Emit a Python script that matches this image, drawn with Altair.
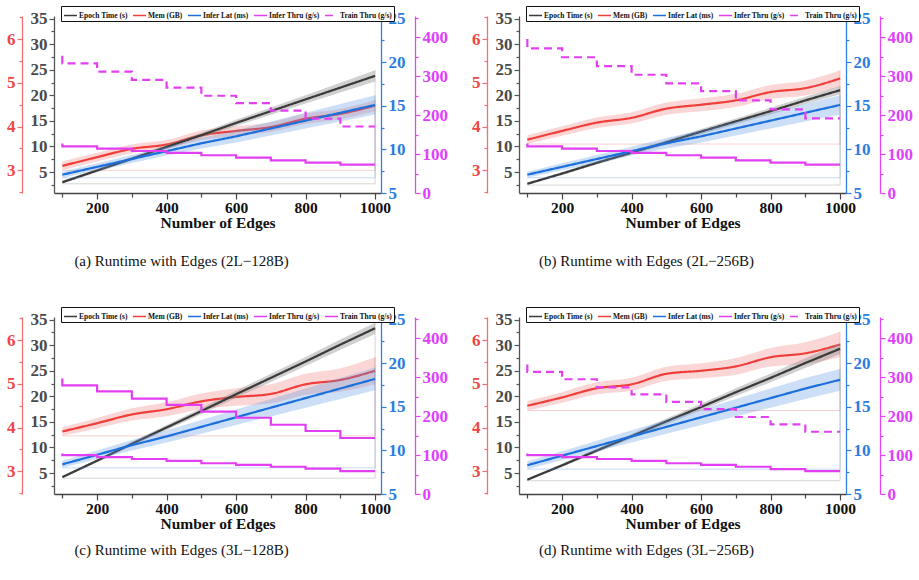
import altair as alt
import pandas as pd

# ---------------- data ----------------
EDGES = [100, 200, 300, 400, 500, 600, 700, 800, 900, 1000]
SERIES = ["Epoch Time (s)", "Mem (GB)", "Infer Lat (ms)", "Infer Thru (g/s)", "Train Thru (g/s)"]
COLORS = ["#3a3a3a", "#f03e3a", "#1d6fdc", "#e23ff2", "#e23ff2"]
CAPTIONS = [
    "(a)  Runtime with Edges (2L\u2212128B)",
    "(b)  Runtime with Edges (2L\u2212256B)",
    "(c)  Runtime with Edges (3L\u2212128B)",
    "(d)  Runtime with Edges (3L\u2212256B)",
]

X_TICKS = [100, 200, 300, 400, 500, 600, 700, 800, 900, 1000]
EPOCH_TICKS = [2.5, 5, 7.5, 10, 12.5, 15, 17.5, 20, 22.5, 25, 27.5, 30, 32.5, 35]
MEM_TICKS = [2.5, 3, 3.5, 4, 4.5, 5, 5.5, 6, 6.5]
LAT_TICKS = [5, 7.5, 10, 12.5, 15, 17.5, 20, 22.5, 25]
THRU_TICKS = [0, 50, 100, 150, 200, 250, 300, 350, 400, 450]

# panel (a) 2L-128B
EPOCH_A = [3.0, 5.3, 7.6, 9.9, 12.2, 14.6, 16.9, 19.2, 21.5, 23.8]
EPOCH_A_HW = [0.3, 0.35, 0.4, 0.45, 0.5, 0.6, 0.7, 0.8, 0.95, 1.1]
MEM_A = [3.10, 3.30, 3.49, 3.59, 3.80, 3.90, 3.99, 4.18, 4.29, 4.48]
MEM_A_HW = [0.1, 0.1, 0.1, 0.1, 0.11, 0.11, 0.11, 0.12, 0.12, 0.13]
LAT_A = [7.1, 8.0, 8.9, 9.8, 10.7, 11.5, 12.4, 13.3, 14.2, 15.1]
LAT_A_HW = [0.35, 0.4, 0.45, 0.5, 0.6, 0.7, 0.8, 0.9, 1.0, 1.1]
INFER_A = [127, 120, 114, 108, 103, 97, 91, 84, 78, 73]
TRAIN_A = [353, 333, 312, 291, 271, 250, 231, 212, 191, 171]

# panel (b) 2L-256B
EPOCH_B = [2.7, 4.7, 6.8, 8.8, 10.8, 12.9, 14.9, 16.9, 19.0, 21.0]
EPOCH_B_HW = [0.25, 0.3, 0.35, 0.4, 0.45, 0.5, 0.55, 0.65, 0.7, 0.8]
MEM_B = [3.70, 3.90, 4.09, 4.20, 4.41, 4.50, 4.60, 4.79, 4.88, 5.10]
MEM_B_HW = [0.1, 0.11, 0.12, 0.13, 0.14, 0.15, 0.15, 0.16, 0.17, 0.19]
LAT_B = [7.1, 8.0, 8.9, 9.8, 10.7, 11.5, 12.4, 13.3, 14.2, 15.1]
LAT_B_HW = [0.35, 0.4, 0.45, 0.5, 0.6, 0.7, 0.8, 0.9, 1.0, 1.1]
INFER_B = [127, 120, 114, 108, 103, 97, 91, 84, 78, 73]
TRAIN_B = [396, 372, 349, 326, 304, 282, 262, 238, 215, 192]

# panel (c) 3L-128B
EPOCH_C = [4.2, 7.4, 10.7, 13.9, 17.1, 20.4, 23.6, 26.8, 30.1, 33.3]
EPOCH_C_HW = [0.2, 0.3, 0.4, 0.5, 0.6, 0.7, 0.8, 0.9, 1.0, 1.1]
MEM_C = [3.91, 4.10, 4.30, 4.42, 4.60, 4.70, 4.77, 4.99, 5.09, 5.30]
MEM_C_HW = [0.1, 0.12, 0.14, 0.16, 0.18, 0.2, 0.22, 0.24, 0.27, 0.31]
LAT_C = [8.4, 9.5, 10.6, 11.6, 12.7, 13.8, 14.9, 16.0, 17.1, 18.2]
LAT_C_HW = [0.4, 0.5, 0.6, 0.7, 0.8, 0.9, 1.0, 1.1, 1.2, 1.3]
INFER_C = [104, 100, 95, 90, 85, 79, 75, 70, 65, 59]
TRAIN_C = [297, 279, 264, 245, 229, 212, 196, 178, 162, 144]

# panel (d) 3L-256B
EPOCH_D = [3.7, 6.5, 9.4, 12.2, 15.1, 17.9, 20.8, 23.6, 26.5, 29.3]
EPOCH_D_HW = [0.2, 0.3, 0.4, 0.45, 0.55, 0.65, 0.75, 0.85, 0.95, 1.05]
MEM_D = [4.50, 4.69, 4.90, 4.99, 5.23, 5.30, 5.40, 5.61, 5.70, 5.90]
MEM_D_HW = [0.11, 0.12, 0.14, 0.15, 0.16, 0.17, 0.19, 0.21, 0.25, 0.29]
LAT_D = [8.3, 9.4, 10.5, 11.6, 12.7, 13.8, 14.9, 16.0, 17.1, 18.1]
LAT_D_HW = [0.45, 0.5, 0.6, 0.7, 0.8, 0.9, 1.0, 1.1, 1.2, 1.25]
INFER_D = [104, 100, 95, 90, 85, 79, 75, 70, 64, 59]
TRAIN_D = [333, 314, 295, 274, 256, 237, 218, 198, 179, 160]

# ---------------- styling ----------------
FONT = "Liberation Serif"
X_DOMAIN = [76, 1017]
PW, PH = 327, 177

YCFG = {
    "mem": dict(domain=[2.48, 6.53], ticks=MEM_TICKS, test="datum.value === round(datum.value)",
                orient="left", offset=32, line="#f27070", label="#f04545"),
    "epoch": dict(domain=[0.9, 35.5], ticks=EPOCH_TICKS, test="datum.value % 5 === 0",
                  orient="left", offset=0, line="#555555", label="#4a4a4a"),
    "lat": dict(domain=[5, 25.3], ticks=LAT_TICKS, test="datum.value % 5 === 0",
                orient="right", offset=0, line="#2f7fe0", label="#2a7de1"),
    "thru": dict(domain=[0, 455], ticks=THRU_TICKS, test="datum.value % 100 === 0",
                 orient="right", offset=34, line="#e444f5", label="#e040fb"),
}


def xenc():
    test = "datum.value % 200 === 0"
    return alt.X(
        "edges:Q",
        title="Number of Edges",
        scale=alt.Scale(domain=X_DOMAIN, nice=False, zero=False),
        axis=alt.Axis(
            values=X_TICKS, labelOverlap=False,
            labelExpr=f"{test} ? ('' + datum.value) : ''",
            tickSize={"condition": {"test": test, "value": 6}, "value": 4},
            labelFont=FONT, labelFontWeight="bold", labelFontSize=15.5, labelColor="#111111",
            titleFont=FONT, titleFontWeight="bold", titleFontSize=15.5, titleColor="#111111",
            titlePadding=0, labelPadding=1,
            domainColor="#444444", tickColor="#444444", domainWidth=1.3, tickWidth=1.2,
            grid=False,
        ),
    )


def yenc(field, key):
    c = YCFG[key]
    return alt.Y(
        f"{field}:Q",
        title=None,
        scale=alt.Scale(domain=c["domain"], nice=False, zero=False),
        axis=alt.Axis(
            orient=c["orient"], offset=c["offset"], values=c["ticks"],
            labelOverlap=False,
            labelExpr=f"{c['test']} ? ('' + datum.value) : ''",
            tickSize={"condition": {"test": c["test"], "value": 5}, "value": 3},
            labelFont=FONT, labelFontWeight="bold", labelFontSize=17, labelColor=c["label"],
            labelPadding=2, domainColor=c["line"], tickColor=c["line"],
            domainWidth=1.3, tickWidth=1.2, grid=False,
        ),
    )


def legend():
    return alt.Legend(
        orient="none", legendX=7, legendY=-10, direction="horizontal", columns=5,
        title=None, symbolType="stroke", symbolSize=170, symbolStrokeWidth=1.5,
        labelFont=FONT, labelFontWeight="bold", labelFontSize=7.5, labelColor="#111111",
        columnPadding=1, labelOffset=1, padding=2, rowPadding=0,
        fillColor="white", strokeColor="#111111", labelLimit=200,
    )


def colenc():
    return alt.Color("series:N", scale=alt.Scale(domain=SERIES, range=COLORS), legend=legend())


def dashenc(dashed):
    rng = [[1, 0], [1, 0], [1, 0], [1, 0], [8, 5] if dashed else [1, 0]]
    return alt.StrokeDash("series:N", scale=alt.Scale(domain=SERIES, range=rng), legend=legend())


def band_group(key, vals, hw, series, band_color, band_opacity, interp, dashed):
    lo = [round(v - h, 3) for v, h in zip(vals, hw)]
    hi = [round(v + h, 3) for v, h in zip(vals, hw)]
    band_df = pd.DataFrame({"edges": EDGES, "lo": lo, "hi": hi})
    band = alt.Chart(band_df).mark_area(
        color=band_color, opacity=band_opacity, interpolate=interp
    ).encode(x=xenc(), y=yenc("lo", key), y2=alt.Y2("hi:Q"))
    out_df = pd.DataFrame({"edges": [EDGES[0], EDGES[-1], EDGES[-1]],
                           "v": [lo[0], lo[0], hi[-1]], "k": [0, 1, 2]})
    outline = alt.Chart(out_df).mark_line(
        color=band_color, opacity=0.35, strokeWidth=1
    ).encode(x=xenc(), y=yenc("v", key), order="k:Q")
    line_df = pd.DataFrame({"edges": EDGES, "value": vals, "series": series})
    line = alt.Chart(line_df).mark_line(strokeWidth=2.2, interpolate=interp).encode(
        x=xenc(), y=yenc("value", key), color=colenc(), strokeDash=dashenc(dashed)
    )
    return alt.layer(band, outline, line)


def thru_group(infer, train, dashed):
    df = pd.DataFrame({
        "edges": EDGES + EDGES,
        "value": infer + train,
        "series": [SERIES[3]] * len(EDGES) + [SERIES[4]] * len(EDGES),
    })
    return alt.Chart(df).mark_line(strokeWidth=2.2, interpolate="step-before").encode(
        x=xenc(), y=yenc("value", "thru"), color=colenc(), strokeDash=dashenc(dashed),
        detail="series:N",
    )


def panel(caption, cap_offset, epoch, epoch_hw, mem, mem_hw, lat, lat_hw, infer, train, dashed):
    g_mem = band_group("mem", mem, mem_hw, SERIES[1], "#f07a78", 0.3, "monotone", dashed)
    g_epoch = band_group("epoch", epoch, epoch_hw, SERIES[0], "#8a8a8a", 0.4, "linear", dashed)
    g_lat = band_group("lat", lat, lat_hw, SERIES[2], "#5b95e6", 0.3, "linear", dashed)
    g_thru = thru_group(infer, train, dashed)
    return alt.layer(g_mem, g_epoch, g_lat, g_thru).resolve_scale(
        y="independent"
    ).properties(
        width=PW, height=PH,
        title=alt.TitleParams(
            caption, orient="bottom", anchor="middle", dx=-36, offset=cap_offset,
            font=FONT, fontSize=15, fontWeight="normal", color="#111111",
        ),
    )


pa = panel(CAPTIONS[0], 23, EPOCH_A, EPOCH_A_HW, MEM_A, MEM_A_HW, LAT_A, LAT_A_HW, INFER_A, TRAIN_A, True)
pb = panel(CAPTIONS[1], 23, EPOCH_B, EPOCH_B_HW, MEM_B, MEM_B_HW, LAT_B, LAT_B_HW, INFER_B, TRAIN_B, True)
pc = panel(CAPTIONS[2], 11, EPOCH_C, EPOCH_C_HW, MEM_C, MEM_C_HW, LAT_C, LAT_C_HW, INFER_C, TRAIN_C, False)
pd_ = panel(CAPTIONS[3], 11, EPOCH_D, EPOCH_D_HW, MEM_D, MEM_D_HW, LAT_D, LAT_D_HW, INFER_D, TRAIN_D, True)

top = alt.hconcat(pa, pb, spacing=23).resolve_scale(color="independent", strokeDash="independent")
bottom = alt.hconcat(pc, pd_, spacing=23).resolve_scale(color="independent", strokeDash="independent")

chart = alt.vconcat(top, bottom, spacing=37).resolve_scale(
    color="independent", strokeDash="independent"
).configure_view(stroke=None).properties(
    background="white", padding={"left": 6, "top": 5, "right": 5, "bottom": 5}
)

chart.save("out.html", embed_options={"renderer": "svg", "actions": False})
